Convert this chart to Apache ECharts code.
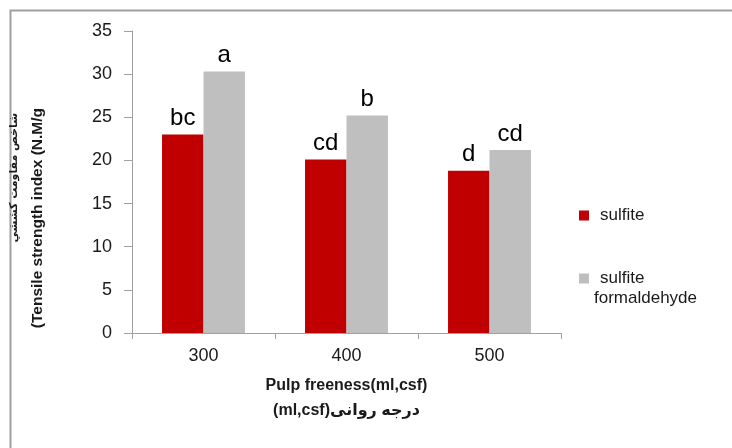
<!DOCTYPE html>
<html>
<head>
<meta charset="utf-8">
<script src="https://cdn.jsdelivr.net/npm/echarts@6/dist/echarts.min.js"></script>
<style>
  html, body { margin: 0; padding: 0; background: #fff; }
  #chart { width: 732px; height: 448px; }
</style>
</head>
<body>
<div id="chart"></div>
<script>
// freeness levels (ml, csf)
var freeness = ['300', '400', '500'];
// tensile strength index (N.M/g)
var sulfite = [23.0, 20.1, 18.8];
var sulfiteFormaldehyde = [30.3, 25.2, 21.2];
// Duncan groups shown above bars
var sulfiteGroups = ['bc', 'cd', 'd'];
var formaldehydeGroups = ['a', 'b', 'cd'];
var yTicks = [0, 5, 10, 15, 20, 25, 30, 35];

var chart = echarts.init(document.getElementById('chart'));

var labelFont = '"Liberation Sans", "DejaVu Sans", sans-serif';

var option = {
    animation: false,
    backgroundColor: '#fff',
    grid: {
        left: 132,
        right: 171,
        top: 31,
        bottom: 115
    },
    legend: {
        orient: 'vertical',
        left: 574,
        top: 202,
        itemWidth: 10,
        itemHeight: 10,
        itemGap: 26,
        icon: 'rect',
        data: ['sulfite', 'sulfite formaldehyde'],
        formatter: function (name) {
            if (name === 'sulfite') return '{a|sulfite}';
            return '{e| }\n{a|sulfite}\n{b|formaldehyde}';
        },
        textStyle: {
            fontFamily: labelFont,
            fontSize: 17,
            color: '#1a1a1a',
            rich: {
                a: { fontFamily: labelFont, fontSize: 17, lineHeight: 20, padding: [0, 0, 0, 6], color: '#1a1a1a' },
                b: { fontFamily: labelFont, fontSize: 17, lineHeight: 20, color: '#1a1a1a' },
                e: { fontSize: 17, lineHeight: 20 }
            }
        }
    },
    xAxis: {
        type: 'category',
        data: freeness,
        name: 'Pulp freeness(ml,csf)\n(ml,csf)درجه روانی',
        nameLocation: 'middle',
        nameGap: 40,
        nameTextStyle: {
            fontFamily: labelFont,
            fontWeight: 'bold',
            fontSize: 16,
            lineHeight: 25,
            color: '#1a1a1a'
        },
        axisLine: { lineStyle: { color: '#a0a0a0', width: 1 } },
        axisTick: { show: true, alignWithLabel: false, length: 6, lineStyle: { color: '#a0a0a0' } },
        axisLabel: {
            margin: 14,
            fontFamily: labelFont,
            fontSize: 18,
            color: '#1a1a1a'
        }
    },
    yAxis: {
        type: 'value',
        min: yTicks[0],
        max: yTicks[yTicks.length - 1],
        interval: 5,
        axisLine: { show: true, lineStyle: { color: '#a0a0a0', width: 1 } },
        axisTick: { show: true, length: 8, lineStyle: { color: '#a0a0a0' } },
        splitLine: { show: false },
        axisLabel: {
            margin: 20,
            fontFamily: labelFont,
            fontSize: 18,
            color: '#1a1a1a'
        }
    },
    series: [
        {
            name: 'sulfite',
            type: 'bar',
            data: sulfite,
            barGap: '0%',
            barCategoryGap: '42%',
            itemStyle: { color: '#c00000' },
            label: {
                show: true,
                position: 'top',
                distance: 4,
                fontFamily: labelFont,
                fontSize: 24,
                color: '#000',
                formatter: function (p) { return sulfiteGroups[p.dataIndex]; }
            }
        },
        {
            name: 'sulfite formaldehyde',
            type: 'bar',
            data: sulfiteFormaldehyde,
            barGap: '0%',
            barCategoryGap: '42%',
            itemStyle: { color: '#bfbfbf' },
            label: {
                show: true,
                position: 'top',
                distance: 4,
                fontFamily: labelFont,
                fontSize: 24,
                color: '#000',
                formatter: function (p) { return formaldehydeGroups[p.dataIndex]; }
            }
        }
    ],
    graphic: [
        {
            // outer frame, only top and left edges are inside the picture
            type: 'rect',
            left: 8,
            top: 8,
            shape: { width: 800, height: 500 },
            style: { fill: 'none', stroke: '#a0a0a0', lineWidth: 2 },
            silent: true
        },
        {
            type: 'text',
            x: 38,
            y: 108,
            rotation: Math.PI / 2,
            style: {
                text: '(Tensile strength index (N.M/g',
                fontFamily: labelFont,
                fontWeight: 'bold',
                fontSize: 15.5,
                fill: '#1a1a1a',
                align: 'right',
                verticalAlign: 'middle'
            }
        },
        {
            type: 'text',
            x: 14,
            y: 113,
            rotation: Math.PI / 2,
            style: {
                text: 'شاخص مقاومت كششي',
                fontFamily: '"DejaVu Sans", sans-serif',
                fontWeight: 'bold',
                fontSize: 11,
                fill: '#1a1a1a',
                align: 'right',
                verticalAlign: 'middle'
            }
        }
    ]
};

chart.setOption(option);
</script>
</body>
</html>
